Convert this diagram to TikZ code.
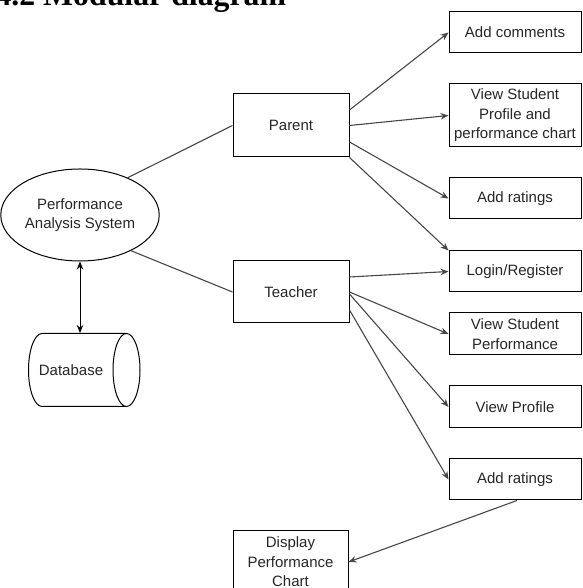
\documentclass[tikz,border=0pt]{standalone}
\usepackage{fontspec}
\setmainfont{Liberation Sans}
\newfontfamily\titlefont{Liberation Serif}
\usetikzlibrary{shapes.geometric,arrows.meta,calc}
\tikzset{
  box/.style={draw=black,line width=1pt,rectangle,inner sep=1pt,align=center,text=black!85,
    font=\fontsize{15}{19.5}\selectfont},
  conn/.style={draw=black!72,line width=1.1pt,-{Stealth[length=8pt,width=6.5pt]}},
  plain/.style={draw=black!72,line width=1.1pt},
}
\begin{document}
\begin{tikzpicture}[x=1pt,y=1pt]
\useasboundingbox (0,0) rectangle (582,588);
\clip (0,0) rectangle (582,588);
% title
\node[anchor=base west,inner sep=0pt,font=\titlefont\bfseries\fontsize{31.8}{36}\selectfont] (title) at (-4.7,582) {4.2 Modular diagram};
% main nodes
\node[box,ellipse,minimum width=145pt,minimum height=92pt] (sys) at (80,373) {Performance\\Analysis System};
\node[box,minimum width=116pt,minimum height=63pt] (parent) at (291,462.5) {Parent};
\node[box,minimum width=116pt,minimum height=62pt] (teacher) at (291,296) {Teacher};
% right column
\node[box,minimum width=132pt,minimum height=41pt] (addc) at (515,555.5) {Add comments};
\node[box,minimum width=132pt,minimum height=63pt] (vsp) at (515,472.5) {View Student\\Profile and\\performance chart};
\node[box,minimum width=132pt,minimum height=41pt] (addr1) at (515,389.5) {Add ratings};
\node[box,minimum width=132pt,minimum height=41pt] (login) at (515,316.5) {Login/Register};
\node[box,minimum width=132pt,minimum height=42pt] (vsperf) at (515,254) {View Student\\Performance};
\node[box,minimum width=132pt,minimum height=42pt] (vprof) at (515,181) {View Profile};
\node[box,minimum width=132pt,minimum height=41pt] (addr2) at (515,108.5) {Add ratings};
\node[box,minimum width=115pt,minimum height=62pt] (display) at (290.5,26) {Display\\Performance\\Chart};
% database cylinder
\node[box,draw=none,minimum height=73pt] (db) at (71,218) {Database};
\draw[line width=1pt] (42,254.5) -- (126.5,254.5)
  (42,181.5) -- (126.5,181.5)
  (126.5,218) ellipse [x radius=13.5, y radius=36.5]
  (42,254.5) arc [start angle=90, end angle=270, x radius=13.5, y radius=36.5];
% connectors
\draw[line width=1pt,{Stealth[length=8pt,width=6.5pt]}-{Stealth[length=8pt,width=6.5pt]}] (sys.south) -- (sys.south |- db.north);
\draw[plain] (sys.38) -- (parent.west);
\draw[plain] (sys.-35) -- (teacher.west);
\draw[conn] ($(parent.east)+(0,15.5)$) -- (addc.west);
\draw[conn] (parent.east) -- (vsp.west);
\draw[conn] ($(parent.east)+(0,-16.5)$) -- (addr1.west);
\draw[conn] (parent.south east) -- (login.north west);
\draw[conn] ($(teacher.east)+(0,15)$) -- (login.west);
\draw[conn] (teacher.east) -- (vsperf.west);
\draw[conn] ($(teacher.east)+(0,-2)$) -- (vprof.west);
\draw[conn] ($(teacher.east)+(0,-18)$) -- (addr2.west);
\draw[conn] ($(addr2.south)+(2,0)$) -- (display.east);
\end{tikzpicture}
\end{document}
